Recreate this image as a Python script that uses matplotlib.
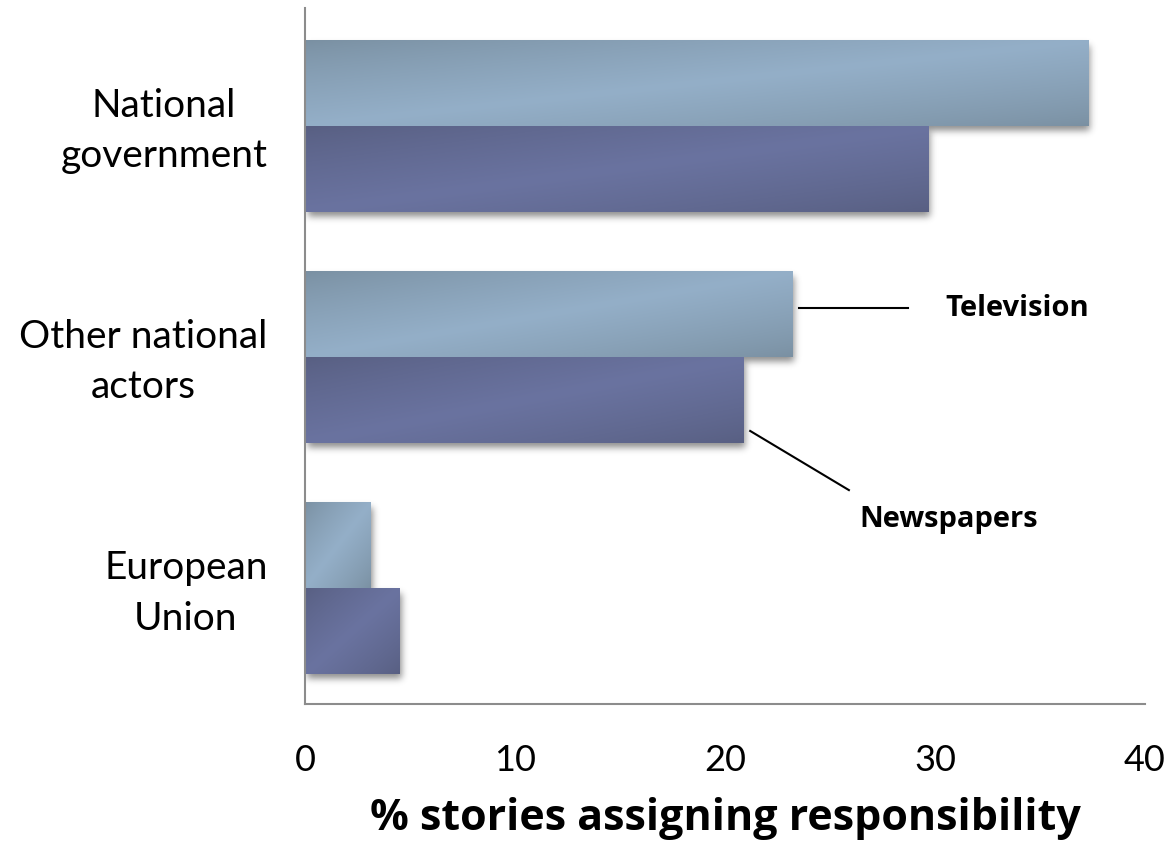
import numpy as np
import matplotlib
matplotlib.use("Agg")
import matplotlib.pyplot as plt
import matplotlib.transforms as mtransforms
from math import erf

categories = ["National\ngovernment", "Other national\nactors", "European\nUnion"]
television = [37.3, 23.2, 3.1]
newspapers = [29.7, 20.9, 4.5]
xticks = [0, 10, 20, 30, 40]
xlabel = "% stories assigning responsibility"

tv_center = np.array([0x94, 0xAF, 0xC8]) / 255
tv_edge = np.array([0x7A, 0x90, 0xA2]) / 255
np_center = np.array([0x6A, 0x73, 0xA0]) / 255
np_edge = np.array([0x58, 0x5F, 0x82]) / 255

fig = plt.figure(figsize=(11.75, 8.44), dpi=100)
ax = fig.add_axes([305/1175, 1-704/844, (1145-305)/1175, (704-11)/844])

h = 0.368
PX_X = 21.0     # pixels per x unit
PX_Y = 231.0    # pixels per y unit

verf = np.vectorize(erf)

def grad_img(center, edge, n=60, m=200):
    u = np.linspace(0, 1, m)[None, :]
    v = np.linspace(0, 1, n)[:, None]  # 0 at top row
    t = (u + v) / 2.0
    s = 1 - np.abs(2 * t - 1)
    s = np.clip(s, 0, 1) ** 0.8
    img = edge[None, None, :] + (center - edge)[None, None, :] * s[:, :, None]
    return img

def shadow(y_top, width):
    off_x, off_y, sig = 2.0, 5.0, 3.5
    wpx = width * PX_X
    hpx = h * PX_Y
    margin = 14
    xs = np.linspace(-margin, wpx + margin, 300)
    ys = np.linspace(-margin, hpx + margin, 120)
    def box(c, a, b):
        return 0.5 * (verf((c - a) / (sig * np.sqrt(2))) - verf((c - b) / (sig * np.sqrt(2))))
    fx = box(xs, off_x, wpx + off_x)
    fy = box(ys, off_y, hpx + off_y)
    alpha = 0.45 * fy[:, None] * fx[None, :]
    img = np.zeros((len(ys), len(xs), 4))
    img[..., 3] = alpha
    x0 = -margin / PX_X
    x1 = width + margin / PX_X
    yt = y_top - margin / PX_Y
    yb = y_top + h + margin / PX_Y
    ax.imshow(img, extent=(x0, x1, yb, yt), aspect="auto", origin="upper",
              zorder=1, interpolation="bilinear")

def draw_bar(y_top, width, center, edge):
    shadow(y_top, width)
    img = grad_img(center, edge)
    ax.imshow(img, extent=(0, width, y_top + h, y_top), aspect="auto", origin="upper",
              zorder=2, interpolation="bilinear")

for i in range(len(categories)):
    draw_bar(i - h, television[i], tv_center, tv_edge)
    draw_bar(i, newspapers[i], np_center, np_edge)

ax.set_xlim(0, 40)
ax.set_ylim(2.5, -0.5)
ax.set_xticks(xticks)
ax.set_xticklabels([str(x) for x in xticks], fontsize=26, family="Lato")
ax.set_yticks(range(len(categories)))
ax.set_yticklabels(categories, fontsize=28, family="Lato", multialignment="center",
                   linespacing=1.5)
ax.tick_params(axis="x", length=0, pad=29)
ax.tick_params(axis="y", length=0, pad=27)
shift = mtransforms.ScaledTranslation(0, 6 / 100, fig.dpi_scale_trans)
for lbl in ax.get_yticklabels():
    lbl.set_transform(lbl.get_transform() + shift)
for sp in ["top", "right"]:
    ax.spines[sp].set_visible(False)
for sp in ["left", "bottom"]:
    ax.spines[sp].set_color("#8c8c8c")
    ax.spines[sp].set_linewidth(1.5)
ax.spines["left"].set_bounds(2.5, -0.515)
ax.set_xlabel(xlabel, fontsize=31, fontweight="bold", family="Open Sans", labelpad=14)

# annotations
ax.plot([television[1] + 0.3, television[1] + 5.5], [0.786, 0.786], color="black", lw=1.5, zorder=3)
ax.text(television[1] + 7.3, 0.786, "Television", fontsize=21, fontweight="bold",
        family="Open Sans", va="center", ha="left")
ax.plot([newspapers[1] + 0.3, newspapers[1] + 5.0], [1.318, 1.574], color="black", lw=1.5, zorder=3)
ax.text(newspapers[1] + 5.5, 1.70, "Newspapers", fontsize=21, fontweight="bold",
        family="Open Sans", va="center", ha="left")

fig.savefig("out.png", dpi=100)
